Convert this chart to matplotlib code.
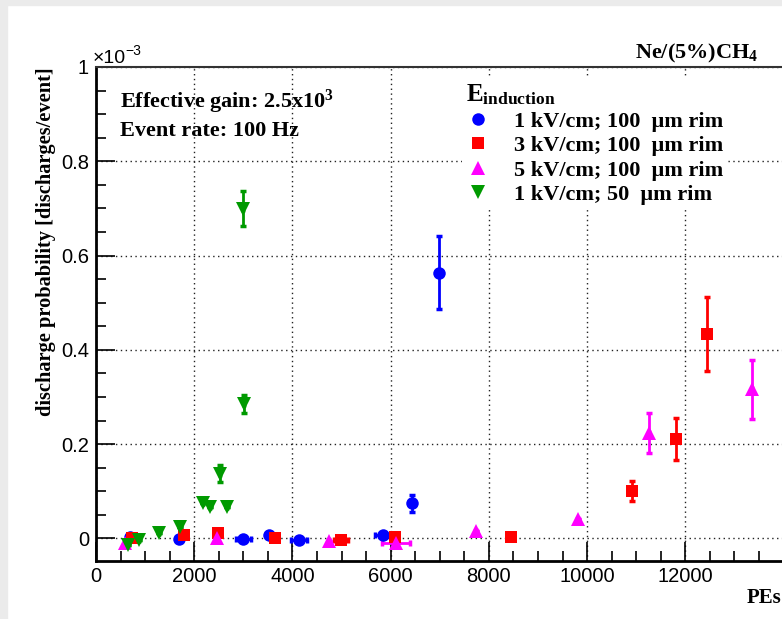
import numpy as np
import matplotlib.pyplot as plt
from matplotlib.patches import Rectangle
from matplotlib.ticker import MultipleLocator

plt.rcParams['mathtext.fontset'] = 'custom'
plt.rcParams['mathtext.rm'] = 'Liberation Serif:bold'
plt.rcParams['mathtext.bf'] = 'Liberation Serif:bold'
plt.rcParams['mathtext.it'] = 'Liberation Serif:bold'

# Discharge probability vs. number of primary electrons (y in units of 1e-3)
# 1 kV/cm; 100 um rim
pe_1kv = [693, 1697, 3001, 3531, 4135, 5840, 6431, 6975]
pe_1kv_err = [0, 0, 160, 0, 170, 150, 0, 0]
prob_1kv = [0.003, -0.002, -0.002, 0.007, -0.004, 0.007, 0.074, 0.564]
prob_1kv_err = [0, 0, 0, 0, 0, 0, 0.017, 0.078]

# 3 kV/cm; 100 um rim
pe_3kv = [740, 1799, 2491, 3646, 4991, 6091, 8460, 10910, 11815, 12452]
pe_3kv_err = [0, 0, 0, 0, 150, 0, 0, 0, 0, 0]
prob_3kv = [0.0, 0.008, 0.011, 0.0, -0.004, 0.002, 0.003, 0.101, 0.211, 0.434]
prob_3kv_err = [0, 0, 0, 0, 0, 0, 0, 0.021, 0.045, 0.079]

# 5 kV/cm; 100 um rim
pe_5kv = [590, 2458, 4746, 6105, 7735, 9810, 11270, 13355]
pe_5kv_err = [0, 0, 0, 290, 0, 0, 0, 0]
prob_5kv = [-0.009, 0.0, -0.005, -0.009, 0.016, 0.041, 0.223, 0.316]
prob_5kv_err = [0, 0, 0, 0, 0, 0, 0.042, 0.063]

# 1 kV/cm; 50 um rim
pe_50um = [658, 876, 1290, 1711, 2186, 2322, 2525, 2675, 3020, 3000]
pe_50um_err = [0] * 10
prob_50um = [-0.014, -0.004, 0.012, 0.025, 0.076, 0.066, 0.137, 0.066, 0.285, 0.699]
prob_50um_err = [0, 0, 0, 0, 0, 0, 0.018, 0, 0.019, 0.037]

series = [
    (pe_1kv, pe_1kv_err, prob_1kv, prob_1kv_err, '#0000ff', 'o', 9, '1 kV/cm; 100  \u03bcm rim'),
    (pe_3kv, pe_3kv_err, prob_3kv, prob_3kv_err, '#ff0000', 's', 9, '3 kV/cm; 100  \u03bcm rim'),
    (pe_5kv, pe_5kv_err, prob_5kv, prob_5kv_err, '#ff00ff', '^', 10, '5 kV/cm; 100  \u03bcm rim'),
    (pe_50um, pe_50um_err, prob_50um, prob_50um_err, '#009a00', 'v', 10, '1 kV/cm; 50  \u03bcm rim'),
]

W, H = 782, 619
fig = plt.figure(figsize=(W / 100, H / 100), dpi=100)
fig.patch.set_facecolor('white')
# grey canvas border
fig.patches.append(Rectangle((0, 0), 7 / W, 1, transform=fig.transFigure, color='#ebebeb', zorder=0))
fig.patches.append(Rectangle((0, 1 - 5 / H), 1, 5 / H, transform=fig.transFigure, color='#ebebeb', zorder=0))

ax = fig.add_axes([96 / W, (H - 561) / H, 687 / W, 494 / H])
ax.set_xlim(0, 13990)
ax.set_ylim(-0.048, 1.0)

handles = []
for x, xe, y, ye, c, m, ms, lab in series:
    ax.errorbar(x, y, xerr=xe, yerr=ye, fmt='none', ecolor=c, elinewidth=2,
                capsize=2, capthick=2.5, zorder=3)
    h, = ax.plot(x, y, linestyle='none', marker=m, color=c, markersize=ms,
                 markeredgewidth=0, label=lab, zorder=4)
    handles.append(h)

ax.xaxis.set_major_locator(MultipleLocator(2000))
ax.xaxis.set_minor_locator(MultipleLocator(500))
ax.yaxis.set_minor_locator(MultipleLocator(0.05))
ax.set_yticks([0, 0.2, 0.4, 0.6, 0.8, 1.0])
ax.set_yticklabels(['0', '0.2', '0.4', '0.6', '0.8', '1'])
ax.grid(True, which='major', color='#222222', linestyle=(0, (1, 2.5)), linewidth=1)
ax.set_axisbelow(True)

ax.tick_params(which='both', direction='in', top=False, right=False, width=1.2,
               labelsize=14.5, labelfontfamily='Liberation Sans')
ax.tick_params(which='major', length=14)
ax.tick_params(which='minor', length=7)
ax.tick_params(axis='y', pad=5)
ax.tick_params(axis='x', pad=4)
for s in ['left', 'bottom']:
    ax.spines[s].set_linewidth(2)
ax.spines['top'].set_linewidth(1.5)
ax.spines['top'].set_color('#333333')
ax.spines['right'].set_visible(False)

serif_bold = dict(family='Liberation Serif', weight='bold')

ax.text(24 / 687, (561 - 108) / 494, 'Effective gain: 2.5x10$^{3}$', fontsize=16,
        va='baseline', transform=ax.transAxes, **serif_bold)
ax.text(24 / 687, (561 - 136) / 494, 'Event rate: 100 Hz', fontsize=16,
        va='baseline', transform=ax.transAxes, **serif_bold)

fig.text(758 / W, (H - 58) / H, 'Ne/(5%)CH$_4$', fontsize=16, ha='right', va='baseline', **serif_bold)
fig.text(781 / W, (H - 603) / H, 'PEs', fontsize=15, ha='right', va='baseline', **serif_bold)
fig.text(46 / W, (H - 67) / H, 'discharge probability [discharges/event]', fontsize=14.7,
         rotation=90, ha='center', va='top', **serif_bold)

# exponent of the y axis
fig.text(93 / W, (H - 63) / H, '\u00d710', fontsize=14, family='Liberation Sans', va='baseline')
fig.text(125 / W, (H - 55) / H, '\u22123', fontsize=10, family='Liberation Sans', va='baseline')

leg = ax.legend(handles=handles, loc='upper left', bbox_to_anchor=((462 - 96) / 687, (561 - 78) / 494),
                title='E$_{\\mathrm{induction}}$', alignment='left', frameon=True,
                fancybox=False, edgecolor='none', facecolor='white', framealpha=1,
                prop=dict(family='Liberation Serif', weight='bold', size=16),
                title_fontproperties=dict(family='Liberation Serif', weight='bold', size=18),
                handlelength=1.0, handletextpad=1.13, labelspacing=0.18, borderpad=0.2,
                borderaxespad=0, numpoints=1)

fig.savefig('out.png', dpi=100)
